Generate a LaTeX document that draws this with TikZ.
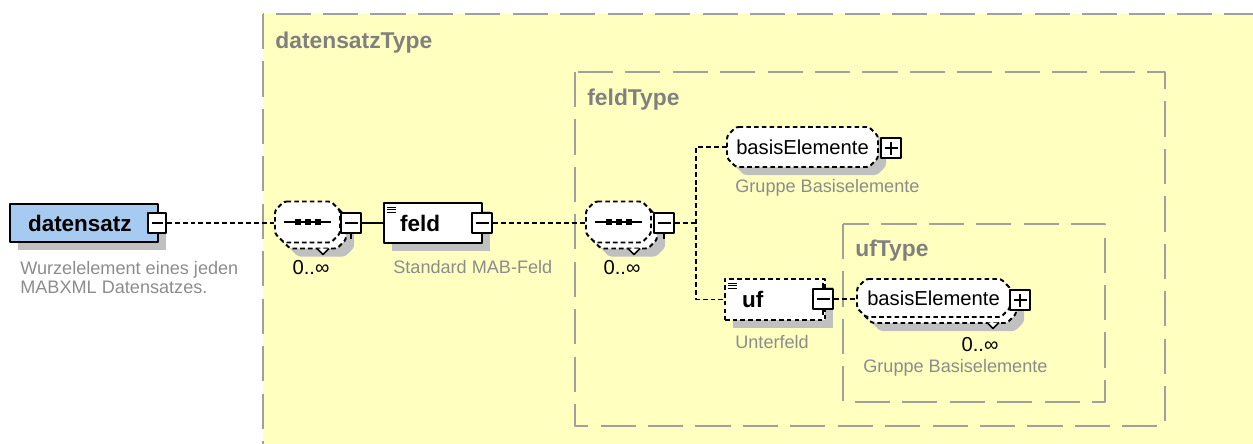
\documentclass[tikz,border=0pt]{standalone}
\usepackage{fontspec}
\setmainfont{Liberation Sans}
\usetikzlibrary{shadows,positioning}
\definecolor{typebg}{RGB}{255,255,192}
\definecolor{typeframe}{RGB}{160,160,160}
\definecolor{typetext}{RGB}{128,128,128}
\definecolor{notetext}{RGB}{140,140,140}
\definecolor{rootblue}{RGB}{166,202,240}
\definecolor{shadowgray}{RGB}{192,192,192}
\newcommand{\fsz}[1]{\fontsize{#1}{#1}\selectfont}
% khung bát giác: tâm x, tâm y, nửa rộng, nửa cao, kiểu
\newcommand{\octo}[5]{\path[#5] (#1-#3+9,#2-#4) -- (#1+#3-9,#2-#4) -- (#1+#3,#2-#4+9) -- (#1+#3,#2+#4-9) -- (#1+#3-9,#2+#4) -- (#1-#3+9,#2+#4) -- (#1-#3,#2+#4-9) -- (#1-#3,#2-#4+9) -- cycle;}

\begin{document}
\begin{tikzpicture}[x=0.02cm, y=-0.02cm, line join=round,
  typebox/.style={draw=typeframe, line width=1.1pt, dash pattern=on 20pt off 7pt},
  typelabel/.style={anchor=west, inner sep=0, text=typetext, font=\fsz{13}\bfseries},
  note/.style={anchor=west, inner sep=0, text=notetext, font=\fontsize{10.3}{10.8}\selectfont, align=left},
  occurs/.style={inner sep=0, font=\fsz{11.5}},
  dropshade/.style={drop shadow={shadow xshift=0.16cm, shadow yshift=-0.16cm, fill=shadowgray, opacity=1}},
  elem/.style={draw, fill=white, line width=1.1pt, inner ysep=0, inner xsep=0.32cm, align=left, font=\fsz{12.8}\bfseries},
  optdash/.style={dash pattern=on 2.6pt off 1.8pt},
  octline/.style={draw, fill=white, line width=1.1pt, optdash, rounded corners=1.5pt},
  octshade/.style={fill=shadowgray, rounded corners=1.5pt},
  grp/.style={inner sep=0, font=\fsz{11.5}},
  pmbox/.style={draw, fill=white, line width=0.9pt, minimum width=0.4cm, minimum height=0.4cm, inner sep=0},
  minusbox/.style={pmbox, path picture={\draw[line width=0.9pt] ([xshift=0.07cm]path picture bounding box.west) -- ([xshift=-0.07cm]path picture bounding box.east);}},
  plusbox/.style={pmbox, path picture={\draw[line width=0.9pt] ([xshift=0.07cm]path picture bounding box.west) -- ([xshift=-0.07cm]path picture bounding box.east) ([yshift=-0.07cm]path picture bounding box.north) -- ([yshift=0.07cm]path picture bounding box.south);}},
  link/.style={line width=0.85pt, dash pattern=on 2.8pt off 1.7pt}]
\useasboundingbox (0,0) rectangle (1253,443);
% khung các kiểu
\begin{scope}
\clip (0,0) rectangle (1253,443);
\draw[typebox, fill=typebg] (263,14) rectangle (1254,470);
\end{scope}
\node[typelabel] (tDs) at (275,43) {datensatzType};
\draw[typebox] (575,72) rectangle (1165,426);
\node[typelabel] (tFeld) at (587,100) {feldType};
\draw[typebox] (843,224) rectangle (1105,402);
\node[typelabel] (tUf) at (855,251) {ufType};
% phần tử gốc
\node[elem, fill=rootblue, dropshade, minimum height=0.76cm, inner xsep=0.36cm, text width=2.24cm] (root) at (84,223) {datensatz};
\node[minusbox, minimum width=0.36cm] (rootM) at (157,223) {};
\node[note] (rootN) at (20,277.5) {Wurzelelement eines jeden\\MABXML Datensatzes.};
% sequence thứ nhất
\octo{321.5}{236}{32.5}{20.5}{octshade}
\octo{313.5}{228}{32.5}{20.5}{octline}
\octo{307.5}{222}{32.5}{20.5}{octline}
\node[grp, minimum width=1.3cm, minimum height=0.82cm] (seqA) at (307.5,222) {};
\filldraw[line width=0.85pt, fill=white] (317,248.5) -- ++(6,6) -- ++(6,-6);
\draw[line width=1.1pt] ([xshift=-0.48cm]seqA.center) -- ([xshift=0.46cm]seqA.center);
\foreach \d in {-9.5,0.5,10.5}
\fill ([shift={(\d-3,-3)}]seqA.center) rectangle ++(6,6);
\node[minusbox] (seqAM) at (351,223) {};
\draw[line width=0.85pt] (seqAM.south) -- ++(0,5);
\node[occurs] (seqAO) at (311,268) {0..∞};
% phần tử feld
\node[elem, dropshade, minimum height=0.8cm, text width=1.32cm] (feld) at (433,223) {feld};
\foreach \k in {0,1,2}
\draw[line width=0.6pt] ([shift={(4,5+2.6*\k)}]feld.north west) -- ++(9,0);
\node[minusbox] (feldM) at (482,223) {};
\node[note] (feldN) at (393,267) {Standard MAB-Feld};
% sequence thứ hai
\octo{632.5}{236}{32.5}{20.5}{octshade}
\octo{624.5}{228}{32.5}{20.5}{octline}
\octo{618.5}{222}{32.5}{20.5}{octline}
\node[grp, minimum width=1.3cm, minimum height=0.82cm] (seqB) at (618.5,222) {};
\filldraw[line width=0.85pt, fill=white] (628,248.5) -- ++(6,6) -- ++(6,-6);
\draw[line width=1.1pt] ([xshift=-0.48cm]seqB.center) -- ([xshift=0.46cm]seqB.center);
\foreach \d in {-9.5,0.5,10.5}
\fill ([shift={(\d-3,-3)}]seqB.center) rectangle ++(6,6);
\node[minusbox] (seqBM) at (664,223) {};
\draw[line width=0.85pt] (seqBM.south) -- ++(0,5);
\node[occurs] (seqBO) at (622,268) {0..∞};
\coordinate (fork) at (696,223);
% nhóm basisElemente
\octo{810.5}{155}{75.5}{20}{octshade}
\octo{802.5}{147}{75.5}{20}{octline}
\node[grp, minimum width=3.02cm, minimum height=0.8cm] (bas) at (802.5,147) {basisElemente};
\node[plusbox] (basP) at (891,148) {};
\node[note] (basN) at (735,188) {Gruppe Basiselemente};
% phần tử uf
\node[elem, optdash, dropshade, minimum height=0.82cm, inner xsep=0.34cm, text width=1.32cm] (uf) at (775,299.5) {uf};
\foreach \k in {0,1,2}
\draw[line width=0.6pt] ([shift={(4,5+2.6*\k)}]uf.north west) -- ++(9,0);
\node[minusbox] (ufM) at (823,299) {};
\draw[line width=0.85pt] (ufM.south) -- ++(0,5) (ufM.north) -- ++(0,-5);
\node[note] (ufN) at (735,342) {Unterfeld};
% nhóm basisElemente lặp lại
\octo{947.5}{312}{76.5}{19}{octshade}
\octo{939.5}{304}{76.5}{19}{octline}
\octo{933.5}{298}{76.5}{19}{octline}
\node[grp, minimum width=3.06cm, minimum height=0.76cm] (basB) at (933.5,298) {basisElemente};
\filldraw[line width=0.85pt, fill=white] (987,322.5) -- ++(6,6) -- ++(6,-6);
\node[plusbox] (basBP) at (1020,300) {};
\node[occurs] (basBO) at (980,345) {0..∞};
\node[note] (basBN) at (863,368) {Gruppe Basiselemente};
% các đường nối
\draw[link] (rootM.east) -- (rootM.east -| seqA.west);
\draw[line width=0.85pt] (seqAM.east) -- (seqAM.east -| feld.west);
\draw[link] (feldM.east) -- (feldM.east -| seqB.west);
\draw[link] (seqBM.east) -- (fork);
\draw[link] (bas.west) -| (fork) |- (uf.west);
\draw[link] (ufM.east) -- (ufM.east -| basB.west);
\end{tikzpicture}
\end{document}
